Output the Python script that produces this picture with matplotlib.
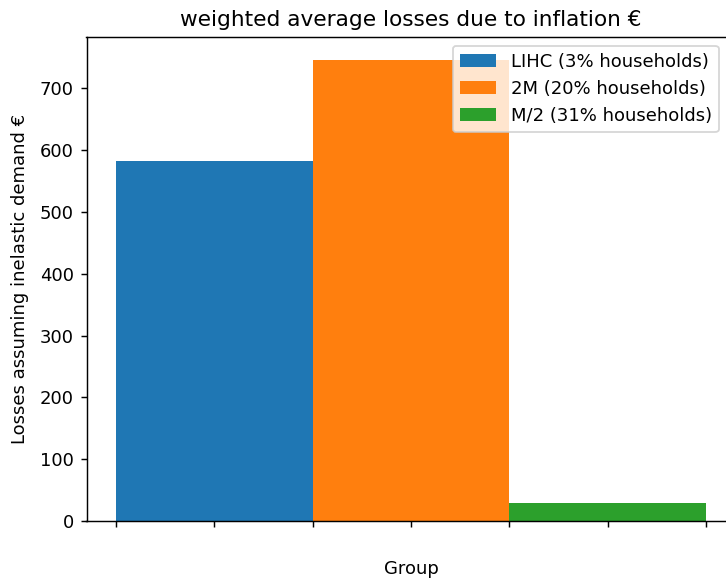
import matplotlib
matplotlib.use('Agg')
import matplotlib.pyplot as plt

groups = ['LIHC (3% households)', '2M (20% households)', 'M/2 (31% households)']
losses = [583, 746, 29]
colors = ['#1f77b4', '#ff7f0e', '#2ca02c']
tick_pos = [-0.5, 0.0, 0.5, 1.0, 1.5, 2.0, 2.5]

DPI = 130


def main():
    fig = plt.figure(figsize=(726 / DPI, 579 / DPI), dpi=DPI)
    ax = fig.add_axes([86.5 / 726, 58 / 579, 649 / 726, 484.3 / 579])

    for i, (name, val) in enumerate(zip(groups, losses)):
        ax.bar(i, val, width=1.0, color=colors[i], label=name)

    ax.set_xticks(tick_pos)
    ax.set_xticklabels([''] * len(tick_pos))
    ax.set_xlabel('Group', labelpad=14.5)
    ax.set_ylabel('Losses assuming inelastic demand €', labelpad=6)
    ax.set_title('weighted average losses due to inflation €')
    ax.legend(loc='upper right', bbox_to_anchor=(728 / 726, 1 - 36.7 / 579),
              bbox_transform=fig.transFigure)

    fig.savefig('out.png', dpi=DPI)


if __name__ == '__main__':
    main()
